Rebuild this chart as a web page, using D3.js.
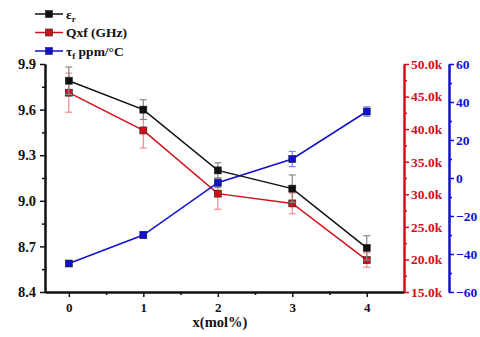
<!DOCTYPE html>
<html><head><meta charset="utf-8">
<script src="https://cdn.jsdelivr.net/npm/d3@7/dist/d3.min.js"></script>
<style>
body{margin:0;background:#fff;}
svg{display:block;font-family:"Liberation Serif","Times New Roman",serif;font-weight:bold;}
</style></head><body>
<svg id="c" width="480" height="337"></svg>
<script>
const xs = [0, 1, 2, 3, 4];
const er = [9.79, 9.60, 9.20, 9.08, 8.69];
const erErr = [0.09, 0.065, 0.05, 0.09, 0.08];
const qf = [45.6, 39.8, 30.1, 28.6, 19.9];
const qfErr = [3.0, 2.7, 2.4, 1.6, 1.1];
const tf = [-45, -30, -2.5, 10, 35];
const tfErr = [1.5, 1.8, 2.5, 4, 2.5];
const leftTicks = [8.4, 8.7, 9.0, 9.3, 9.6, 9.9];
const qTicks = [15, 20, 25, 30, 35, 40, 45, 50];
const tTicks = [-60, -40, -20, 0, 20, 40, 60];
const xTicks = [0, 1, 2, 3, 4];

const RED = "#d0101a", BLUE = "#1010d0", BLACK = "#111";
const svg = d3.select("#c");
const x = d3.scaleLinear().domain([-0.32, 4.5]).range([45, 404]);
const yL = d3.scaleLinear().domain([8.4, 9.9]).range([292, 64]);
const yQ = d3.scaleLinear().domain([15, 50]).range([292, 64]);
const yT = d3.scaleLinear().domain([-60, 60]).range([292, 64]);

function styleAxis(g, color, size) {
  g.selectAll("path.domain").attr("stroke", color).attr("stroke-width", 2);
  g.selectAll(".tick line").attr("stroke", color).attr("stroke-width", 1.5);
  g.selectAll(".tick text").attr("fill", color).attr("font-size", size)
    .attr("font-family", "Liberation Serif, serif").attr("font-weight", "bold");
}
function minor(g, axisFn, vals) {
  g.call(axisFn.tickValues(vals).tickFormat("").tickSize(3).tickSizeOuter(0));
}

// minor ticks
const gLm = svg.append("g").attr("transform", "translate(45,0)");
minor(gLm, d3.axisLeft(yL), d3.range(8.55, 9.9, 0.3));
styleAxis(gLm, BLACK, 13);
const gXm = svg.append("g").attr("transform", "translate(0,292)");
minor(gXm, d3.axisBottom(x), [0.5, 1.5, 2.5, 3.5]);
styleAxis(gXm, BLACK, 13);
const gQm = svg.append("g").attr("transform", "translate(404,0)");
minor(gQm, d3.axisRight(yQ), d3.range(17.5, 50, 5));
styleAxis(gQm, RED, 13);
const gTm = svg.append("g").attr("transform", "translate(449,0)");
minor(gTm, d3.axisRight(yT), d3.range(-50, 60, 20));
styleAxis(gTm, BLUE, 13);

// major axes
const gL = svg.append("g").attr("transform", "translate(45,0)")
  .call(d3.axisLeft(yL).tickValues(leftTicks).tickFormat(d3.format(".1f")).tickSize(5).tickSizeOuter(0).tickPadding(4));
styleAxis(gL, BLACK, 14.5);
const gX = svg.append("g").attr("transform", "translate(0,292)")
  .call(d3.axisBottom(x).tickValues(xTicks).tickFormat(d3.format("d")).tickSize(5).tickSizeOuter(0).tickPadding(6));
styleAxis(gX, BLACK, 13);
const gQ = svg.append("g").attr("transform", "translate(404,0)")
  .call(d3.axisRight(yQ).tickValues(qTicks).tickFormat(d => d.toFixed(1) + "k").tickSize(5).tickSizeOuter(0).tickPadding(2));
styleAxis(gQ, RED, 13.5);
const gT = svg.append("g").attr("transform", "translate(449,0)")
  .call(d3.axisRight(yT).tickValues(tTicks).tickFormat(d3.format("d")).tickSize(5).tickSizeOuter(0).tickPadding(2));
styleAxis(gT, BLUE, 13.5);

svg.append("text").attr("x", 220).attr("y", 327).attr("text-anchor", "middle")
  .attr("font-size", 14.5).attr("fill", BLACK).text("x(mol%)");

const series = [
  {v: qf, e: qfErr, y: yQ, c: RED, ec: "#f08a8f"},
  {v: tf, e: tfErr, y: yT, c: BLUE, ec: "#8080f0"},
  {v: er, e: erErr, y: yL, c: BLACK, ec: "#888"},
];
series.forEach(s => {
  const g = svg.append("g");
  g.append("path").datum(xs.map((xv, i) => [x(xv), s.y(s.v[i])]))
    .attr("d", d3.line()).attr("fill", "none").attr("stroke", s.c).attr("stroke-width", 1.5);
  xs.forEach((xv, i) => {
    const cx = x(xv), top = s.y(s.v[i] + s.e[i]), bot = s.y(s.v[i] - s.e[i]);
    g.append("line").attr("x1", cx).attr("x2", cx).attr("y1", top).attr("y2", bot).attr("stroke", s.ec).attr("stroke-width", 1.2);
    [top, bot].forEach(yy => g.append("line").attr("x1", cx - 3.5).attr("x2", cx + 3.5).attr("y1", yy).attr("y2", yy).attr("stroke", s.ec).attr("stroke-width", 1.2));
  });
  g.selectAll("rect").data(xs).enter().append("rect")
    .attr("x", (d) => x(d) - 3.5).attr("y", (d, i) => s.y(s.v[i]) - 3.5)
    .attr("width", 7).attr("height", 7).attr("fill", s.c).attr("stroke", "#222").attr("stroke-width", 0.6);
});

// legend
const leg = [
  {c: BLACK, t: [["ε", 0], ["r", 1]]},
  {c: RED, t: [["Qxf (GHz)", 0]]},
  {c: BLUE, t: [["τ", 0], ["f", 1], [" ppm/°C", 0]]},
];
leg.forEach((l, i) => {
  const yy = 14 + i * 18.5;
  svg.append("line").attr("x1", 35).attr("x2", 63).attr("y1", yy).attr("y2", yy).attr("stroke", l.c).attr("stroke-width", 1.5);
  svg.append("rect").attr("x", 45.5).attr("y", yy - 3.5).attr("width", 7).attr("height", 7).attr("fill", l.c).attr("stroke", "#222").attr("stroke-width", 0.6);
  const t = svg.append("text").attr("x", 66).attr("y", yy + 4.5).attr("font-size", 13.5).attr("fill", BLACK);
  l.t.forEach(([s, sub]) => {
    const ts = t.append("tspan").text(s);
    if (sub) ts.attr("font-size", 9).attr("dy", 3);
    else if (t.selectAll("tspan").size() > 1) ts.attr("dy", -3);
  });
});
</script>
</body></html>
